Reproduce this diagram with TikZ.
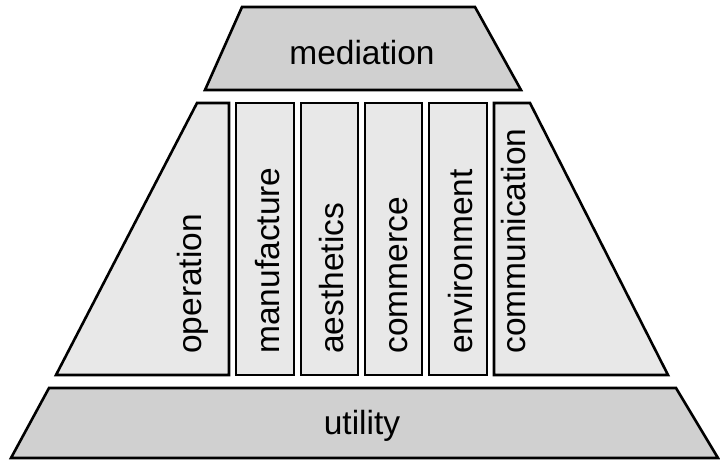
\documentclass[tikz,border=0pt]{standalone}
\usepackage{fontspec}
\setmainfont{Liberation Sans}
\definecolor{bandgray}{RGB}{208,208,208}
\definecolor{pillargray}{RGB}{232,232,232}

\begin{document}
\begin{tikzpicture}[x=1pt,y=-1pt,line width=2.6pt,
  band/.style={draw=black,fill=bandgray},
  pillar/.style={draw=black,fill=pillargray},
  lbl/.style={inner sep=0pt,font=\fontsize{33.5}{40}\selectfont},
  vlbl/.style={lbl,rotate=90,anchor=base west}]
\useasboundingbox (0,0) rectangle (720,460);
% top band
\draw[band] (242,7)--(475,7)--(521,90)--(205,90)--cycle;
\draw (362,64) node[lbl,anchor=base](mediation){mediation};
% pillars
\draw[pillar] (197,103)--(229,103)--(229,375)--(56,375)--cycle;
\draw (201,355) node[vlbl](operation){operation};
\foreach \a/\b/\t in {236/294/manufacture,301/358/aesthetics,365/422/commerce,429/487/environment}{
  \draw[pillar] (\a,103) rectangle (\b,375);
  \draw (\b-15,355) node[vlbl](\t){\t};
}
\draw[pillar] (494,103)--(530,103)--(668,375)--(494,375)--cycle;
\draw (525,355) node[vlbl](communication){communication};
% bottom band
\draw[band] (49,388)--(676,388)--(718,458)--(11,458)--cycle;
\draw (362,434) node[lbl,anchor=base](utility){utility};
\end{tikzpicture}
\end{document}
